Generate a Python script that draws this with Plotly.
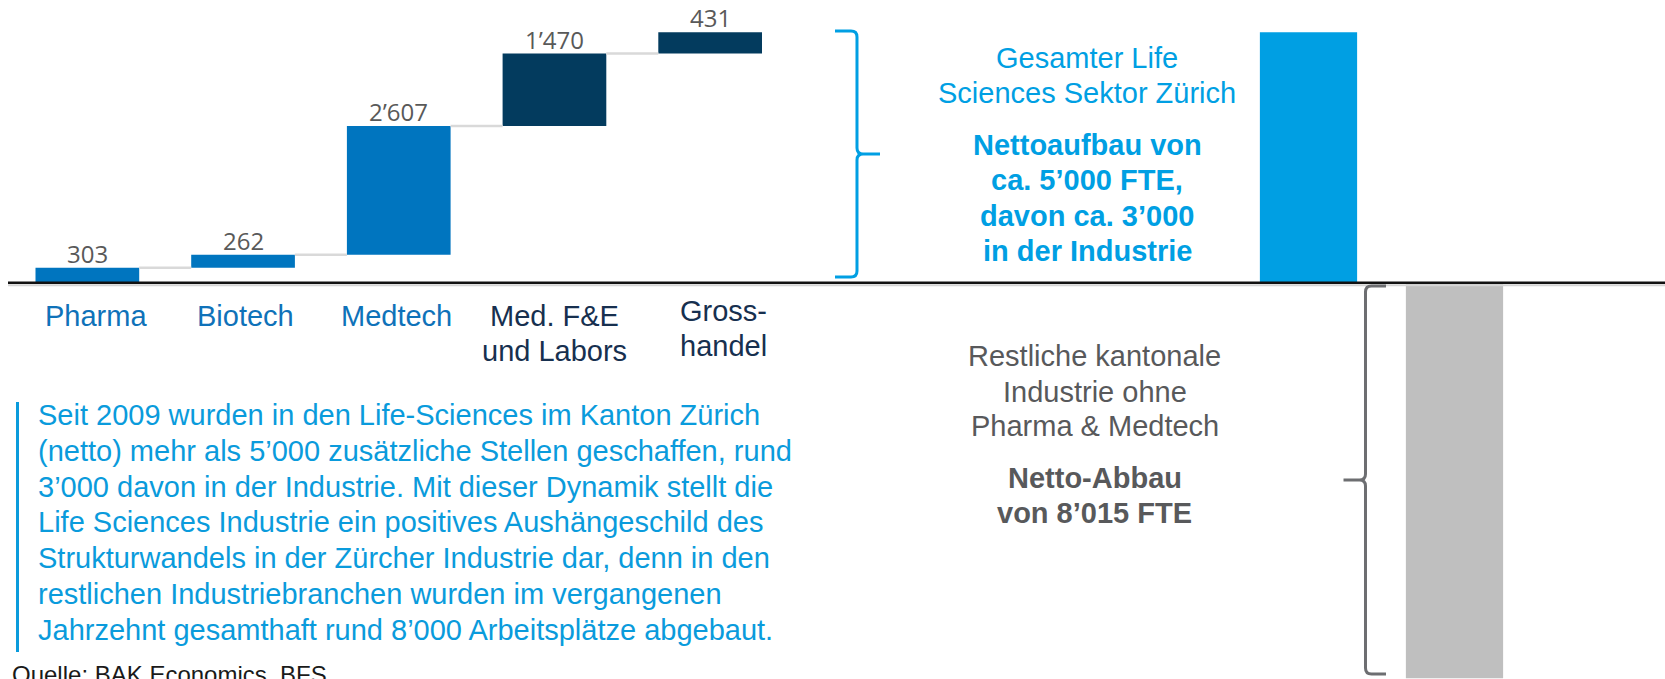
import plotly.graph_objects as go

W, H = 1665, 679

# Net job change per Life-Sciences branch in the canton of Zurich (FTE)
categories = ["Pharma", "Biotech", "Medtech", "Med. F&E und Labors", "Grosshandel"]
category_lines = [["Pharma"], ["Biotech"], ["Medtech"], ["Med. F&E", "und Labors"], ["Gross-", "handel"]]
values = [303, 262, 2607, 1470, 431]
bar_colors = ["#0075BF", "#0075BF", "#0075BF", "#033B5E", "#033B5E"]
label_colors = ["#0F72B9", "#0F72B9", "#0F72B9", "#17304F", "#17304F"]

# Comparison: whole Life-Sciences sector vs. rest of the cantonal industry
summary_categories = ["Life Sciences Sektor", "Restliche Industrie"]
rest_industry_change = -8015
summary_colors = ["#009FE3", "#BFBFBF"]

paragraph = [
    "Seit 2009 wurden in den Life-Sciences im Kanton Zürich",
    "(netto) mehr als 5’000 zusätzliche Stellen geschaffen, rund",
    "3’000 davon in der Industrie. Mit dieser Dynamik stellt die",
    "Life Sciences Industrie ein positives Aushängeschild des",
    "Strukturwandels in der Zürcher Industrie dar, denn in den",
    "restlichen Industriebranchen wurden im vergangenen",
    "Jahrzehnt gesamthaft rund 8’000 Arbeitsplätze abgebaut.",
]
blue_block = [("Gesamter Life", False), ("Sciences Sektor Zürich", False),
              ("Nettoaufbau von", True), ("ca. 5’000 FTE,", True),
              ("davon ca. 3’000", True), ("in der Industrie", True)]
grey_block = [("Restliche kantonale", False), ("Industrie ohne", False),
              ("Pharma & Medtech", False), ("Netto-Abbau", True), ("von 8’015 FTE", True)]
source = "Quelle: BAK Economics, BFS"

FONT = "Liberation Sans, Arial, sans-serif"
BLUE_TEXT = "#0A9BDC"
GREY_TEXT = "#58595B"


def fmt(v):
    return f"{v:,}".replace(",", "’")


def px(x):
    return x / W


def py(y):
    return 1 - y / H


# cumulative bases for the waterfall steps
bases = []
running = 0
for v in values:
    bases.append(running)
    running += v
total = running

BARGAP = 0.334
Y_RANGE = [-8029, 5727]

fig = go.Figure()
fig.add_trace(go.Bar(
    x=categories, y=values, base=bases,
    marker=dict(color=bar_colors, line=dict(width=0)),
    xaxis="x", yaxis="y", hoverinfo="x+y",
))
fig.add_trace(go.Bar(
    x=summary_categories, y=[total, rest_industry_change],
    marker=dict(color=summary_colors, line=dict(width=0)),
    xaxis="x2", yaxis="y", hoverinfo="x+y",
))

shapes = []
# connectors between waterfall steps
w = 1 - BARGAP
for i in range(len(values) - 1):
    level = bases[i] + values[i]
    shapes.append(dict(type="line", xref="x", yref="y",
                       x0=i + w / 2, x1=i + 1 - w / 2, y0=level, y1=level,
                       line=dict(color="#D9D9D9", width=2.5)))
# zero line with light shadow
shadow = 2.5 * (Y_RANGE[1] - Y_RANGE[0]) / H
shapes.append(dict(type="line", xref="paper", yref="y", x0=px(8), x1=1, y0=-shadow, y1=-shadow,
                   line=dict(color="#D4D4D4", width=2)))
shapes.append(dict(type="line", xref="paper", yref="y", x0=px(8), x1=1, y0=0, y1=0,
                   line=dict(color="#111111", width=2.5)))
# paragraph accent bar
shapes.append(dict(type="line", xref="paper", yref="paper", x0=px(17.5), x1=px(17.5),
                   y0=py(402), y1=py(652), line=dict(color=BLUE_TEXT, width=3)))


def path(points):
    out = []
    for cmd, *coords in points:
        pts = " ".join(f"{px(coords[k]):.5f},{py(coords[k + 1]):.5f}" for k in range(0, len(coords), 2))
        out.append(f"{cmd} {pts}")
    return " ".join(out)


# right-facing brace around the Life-Sciences block
bx, tx, top, mid, bot, end = 857, 880, 31, 154, 277, 835
shapes.append(dict(type="path", xref="paper", yref="paper", line=dict(color="#009FE3", width=3),
                   path=path([("M", end, top), ("L", bx - 6, top), ("Q", bx, top, bx, top + 6),
                              ("L", bx, mid - 6), ("Q", bx, mid, bx + 6, mid), ("L", tx, mid),
                              ("M", bx + 6, mid), ("Q", bx, mid, bx, mid + 6),
                              ("L", bx, bot - 6), ("Q", bx, bot, bx - 6, bot), ("L", end, bot)])))
# left-facing brace around the rest of industry
gx, gt, gtop, gmid, gbot, gend = 1365.5, 1343.5, 286, 480, 674, 1386
shapes.append(dict(type="path", xref="paper", yref="paper", line=dict(color="#6D6E71", width=3),
                   path=path([("M", gend, gtop), ("L", gx + 6, gtop), ("Q", gx, gtop, gx, gtop + 6),
                              ("L", gx, gmid - 6), ("Q", gx, gmid, gx - 6, gmid), ("L", gt, gmid),
                              ("M", gx - 6, gmid), ("Q", gx, gmid, gx, gmid + 6),
                              ("L", gx, gbot - 6), ("Q", gx, gbot, gx + 6, gbot), ("L", gend, gbot)])))

annotations = []
# value labels just above each waterfall step
for cat, b, v in zip(categories, bases, values):
    annotations.append(dict(x=cat, xref="x", y=b + v, yref="y", text=fmt(v), showarrow=False,
                            xanchor="center", yanchor="bottom", yshift=-4,
                            font=dict(family="Open Sans, sans-serif", size=24, color="#595959")))
# category labels below the zero line
first_line = [316, 316, 316, 316, 311]
xshift = [9, 2, -2, 0, 13]
for i, lines in enumerate(category_lines):
    for j, line in enumerate(lines):
        annotations.append(dict(x=categories[i], xref="x", y=py(first_line[i] + 35 * j), yref="paper",
                                text=line, showarrow=False, xanchor="center", yanchor="middle",
                                xshift=xshift[i],
                                font=dict(family=FONT, size=29, color=label_colors[i])))
# explanatory paragraph
for k, line in enumerate(paragraph):
    annotations.append(dict(x=px(36), xref="paper", y=py(415 + 35.8 * k), yref="paper",
                            text=line, showarrow=False, xanchor="left", yanchor="middle",
                            font=dict(family=FONT, size=29, color=BLUE_TEXT)))
# text next to the braces
for (line, bold), yc in zip(blue_block, [57.5, 93.5, 145, 180.5, 216, 251]):
    annotations.append(dict(x=px(1087), xref="paper", y=py(yc), yref="paper",
                            text=f"<b>{line}</b>" if bold else line, showarrow=False,
                            xanchor="center", yanchor="middle",
                            font=dict(family=FONT, size=29, color="#009FE3")))
for (line, bold), yc in zip(grey_block, [356, 391.7, 426, 478, 513]):
    annotations.append(dict(x=px(1094.5), xref="paper", y=py(yc), yref="paper",
                            text=f"<b>{line}</b>" if bold else line, showarrow=False,
                            xanchor="center", yanchor="middle",
                            font=dict(family=FONT, size=29, color=GREY_TEXT)))
annotations.append(dict(x=px(10), xref="paper", y=py(674), yref="paper", text=source,
                        showarrow=False, xanchor="left", yanchor="middle",
                        font=dict(family=FONT, size=24, color="#1A1A1A")))

fig.update_layout(
    width=W, height=H,
    margin=dict(l=0, r=0, t=0, b=0),
    paper_bgcolor="white", plot_bgcolor="white",
    showlegend=False, bargap=BARGAP,
    xaxis=dict(domain=[px(9.5), px(788)], range=[-0.5, 4.5], type="category",
               visible=False, fixedrange=True),
    xaxis2=dict(domain=[px(1235.5), px(1527.5)], range=[-0.5, 1.5], type="category",
                visible=False, anchor="y", fixedrange=True),
    yaxis=dict(range=Y_RANGE, visible=False, fixedrange=True),
    shapes=shapes, annotations=annotations,
)

fig.write_html("out.html")
